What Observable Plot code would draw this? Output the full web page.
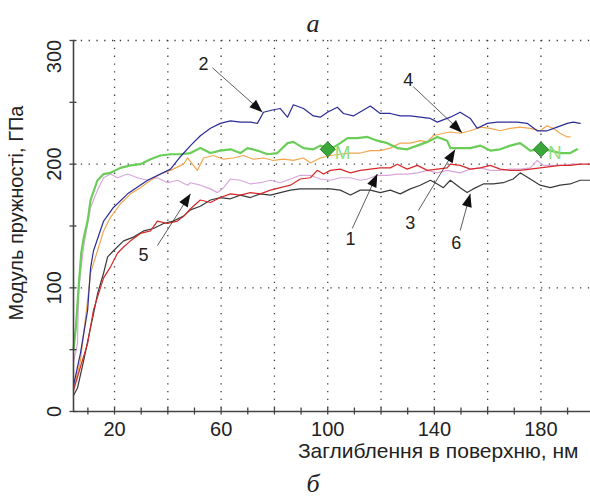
<!DOCTYPE html>
<html><head><meta charset="utf-8">
<script src="https://cdn.jsdelivr.net/npm/d3@7"></script>
<script src="https://cdn.jsdelivr.net/npm/@observablehq/plot@0.6"></script>
<style>html,body{margin:0;padding:0;background:#fff}</style>
</head><body><div id="chart"></div>
<script>
// ---- data ----
const depth1 = [4.6,7.2,9.9,12.1,14.7,15.9,18.5,21.1,23.4,26,29.7,33.5,36.1,39.9,43.6,46,48.5,52.2,56,59.7,63.5,67.2,71,74.7,78.5,82.2,86,89.7,93.5,96.1,98.4,101,104.7,108.5,112.2,116,119.7,123.5,126.1,129.8,133.6,137.4,141.1,144.8,146,149.7,153.5,157.3,161,164.7,168.5,172.2,176,179.7,183.5,187.2,191,194.7,198.5];
const modulus1 = [17,36,55,82,100,108,117,128,133,138,144,146,154,152,154,158,164,171,169,173,176,175,177,176,179,181,183,188,189,195,192,195,196,193,195,196,197,197,200,196,199,195,196,197,200,199,196,197,199,196,195,195,196,197,198,199,199,200,200];

const depth2 = [4.6,7.2,9.9,11,12.1,15.9,19.6,24.9,32.4,41,44.7,48.5,52.2,56,59.7,63.5,67.2,71,73.6,75.9,79.6,82.2,84.9,87.1,90.9,94.6,97.2,99.9,103.6,105.9,109.6,116,119.7,123.5,127.2,131,134.7,138.5,141.1,144.8,146,149.7,153.5,156.1,159.9,163.6,167.4,171.1,174.8,178.6,182.3,186.1,189.9,192.1,194.7];
const modulus2 = [21,47,82,116,130,154,165,176,187,196,206,215,223,229,233,235,234,234,233,242,244,245,238,248,245,239,238,242,246,241,239,247,241,241,239,239,238,237,234,237,238,242,237,229,233,234,234,234,233,227,227,230,233,234,233];

const depth3 = [4.6,5.5,6.5,7.5,8.4,9.9,11,13.6,15.9,18.5,22.2,26,29.7,33.5,37.2,41,44.7,48.5,52.2,56,59.7,63.5,67.2,69.9,73.6,77.4,81.1,84.9,87.1,90.9,94.6,97.2,101,104.7,107.4,111.1,114.9,118.6,122.4,126.1,129.8,133.6,137.4,141.1,144.8,146,149.7,153.5,157.3,161,164.7,168.5,172.2,176,179.7,183.5,187.2,191,193.6];
const modulus3 = [50,68,100,128,140,154,171,187,192,193,197,199,200,204,207,208,208,209,213,209,211,212,209,213,211,208,209,217,218,213,212,215,212,217,221,221,222,219,217,213,212,215,218,222,219,213,213,213,215,211,212,215,217,211,212,211,209,209,212];

const depth4 = [4.6,7.2,8.4,9.9,11,13.6,15.9,18.5,22.2,26,29.7,33.5,37.2,41,45.9,47.4,49.6,51.1,53.4,57.1,60.9,64.6,68.4,72.1,75.9,79.6,83.4,87.1,90.9,93.5,97.2,101,104.7,108.5,112.2,116,119.7,123.5,127.2,131,134.7,137.4,139.6,143.4,146,149.7,153.5,157.3,161,164.7,168.5,172.2,176,179.7,182.3,184.6,187.2,189.9,191];
const modulus4 = [18,41,63,90,112,130,146,157,168,176,181,187,192,195,200,205,199,195,205,207,204,205,207,204,205,203,204,203,205,201,205,207,208,209,209,211,211,213,217,217,219,218,223,225,226,225,227,230,229,227,229,230,229,227,231,229,225,222,222];

const depth5 = [4.6,6.1,6.5,7.2,8.4,9.9,11,13.6,15.9,18.5,21.1,24.9,28.6,32.4,36.1,39.9,43.6,47.4,48.5,52.2,56,58.6,60.9,63.5,67.2,71,74.7,78.5,82.2,86,89.7,93.5,97.2,101,104.7,108.5,112.2,114.9,118.6,122.4,126.1,129.8,133.6,137.4,141.1,144.8,149.7,153.5,157.3,161,164.7,168.5,172.2,176,178.6,180.8,184.6,188.4,192.1,194.7];
const modulus5 = [40,55,95,112,133,152,165,179,189,192,189,192,189,187,189,185,187,183,185,183,180,177,181,188,187,184,185,187,185,188,191,191,188,187,189,189,187,188,191,191,192,192,193,195,193,195,193,196,197,195,195,196,196,197,203,199,199,199,200,200];

const depth6 = [4.6,6.1,8.4,11,12.1,13.6,15.9,17.4,19.6,23.4,27.1,30.9,34.6,38.4,42.1,45.9,48.5,52.2,56,59.7,63.5,67.2,71,74.7,78.5,82.2,86,89.7,93.5,97.2,101,104.7,108.5,112.2,116,119.7,123.5,127.2,131,134.7,138.5,141.1,143.4,146,149.7,152.3,154.6,158.4,162.1,165.9,169.6,172.2,176,179.7,183.5,187.2,191,194.7,198.5];
const modulus6 = [13,19,41,68,79,95,112,125,130,138,141,146,148,152,154,158,163,166,171,173,172,175,173,176,175,177,179,180,180,180,180,179,175,179,179,177,179,176,180,183,187,184,181,187,181,177,180,184,184,185,188,193,188,183,181,183,184,187,187];

const curveIds = ["1","2","3","4","5","6"];
const curveColors = ["#d42a2a","#2c2c98","#6acd58","#f2a650","#d9a6dc","#3a3a3a"];
const curveWidths = [1.2,1.2,2.2,1.2,1.2,1.2];

// markers M, N on curve 3
const markerDepth = [100, 180];
const markerModulus = [212, 212];
const markerLabels = ["M", "N"];

// curve number annotations
const annotLabel = ["1","2","3","4","5","6"];
const annotTextX = [108.5, 53.4, 131, 130.2, 30.9, 148.2];
const annotTextY = [139, 281, 152, 267.6, 126, 136];
const annotFromX = [109.2, 56.7, 134, 132.1, 36.1, 149.7];
const annotFromY = [148, 278, 162.5, 262.7, 134.2, 146.3];
const annotTipX = [118.6, 75.5, 147.8, 150.4, 48.5, 153.5];
const annotTipY = [192, 242, 211.8, 225.5, 176, 176];

// axes
const xGridTicks = [20,40,60,80,100,120,140,160,180];
const xMinorTicks = [10,20,30,40,50,60,70,80,90,100,110,120,130,140,150,160,170,180,190];
const xTickLabels = [20,60,100,140,180];
const yGridTicks = [100,200,300];
const yMinorTicks = [0,50,100,150,200,250,300];
const yTickLabels = [0,100,200];
const yTopLabel = [300];
const xTitle = "Заглиблення в поверхню, нм";
const yTitle = "Модуль пружності, ГПа";
const topTitle = "а";
const bottomTitle = "б";

// ---- chart ----
const W = 590, H = 498, mL = 73, mR = 0, mT = 40, mB = 87;
const xDomain = [4.6, 198.6], yDomain = [0, 300];
const sx = Plot.scale({x: {domain: xDomain, range: [mL, W - mR]}});
const sy = Plot.scale({y: {domain: yDomain, range: [H - mB, mT]}});
const idx = d3.range(annotLabel.length);
const angles = idx.map(i => {
  const dx = sx.apply(annotTipX[i]) - sx.apply(annotFromX[i]);
  const dy = sy.apply(annotTipY[i]) - sy.apply(annotFromY[i]);
  return Math.atan2(dx, -dy) * 180 / Math.PI;
});
const headShape = {draw(ctx, l) { ctx.moveTo(0, -l); ctx.lineTo(-5, 0); ctx.lineTo(5, 0); ctx.closePath(); }};

const allDepth = [depth1, depth2, depth3, depth4, depth5, depth6];
const allMod = [modulus1, modulus2, modulus3, modulus4, modulus5, modulus6];
const drawOrder = [4, 3, 2, 1, 5, 0];
const lineMarks = drawOrder.map(k => Plot.line(d3.range(allDepth[k].length), {
  x: i => allDepth[k][i], y: i => allMod[k][i],
  stroke: curveColors[k], strokeWidth: curveWidths[k], strokeLinejoin: "round"
}));

const grid = {stroke: "#333", strokeOpacity: 0.95, strokeWidth: 1.3, strokeDasharray: "1.3,6.5"};
const axisCol = "#444";
const serif = "'Liberation Serif','Times New Roman',serif";

const chart = Plot.plot({
  width: W, height: H,
  marginLeft: mL, marginRight: mR, marginTop: mT, marginBottom: mB,
  x: {domain: xDomain, axis: null},
  y: {domain: yDomain, axis: null},
  style: {fontFamily: "Arial, 'Liberation Sans', sans-serif", fontSize: "20px", color: "#222", background: "#fff", overflow: "visible"},
  marks: [
    Plot.gridX(xGridTicks, grid),
    Plot.gridY(yGridTicks, grid),
    ...lineMarks,
    Plot.ruleY([0], {stroke: axisCol, strokeWidth: 1.6}),
    Plot.ruleX([xDomain[0]], {y1: 0, y2: 300, stroke: axisCol, strokeWidth: 1.6}),
    Plot.axisX(xMinorTicks, {tickSize: 7, dy: -3.5, fill: "none", stroke: axisCol, strokeWidth: 1.3}),
    Plot.axisY(yMinorTicks, {tickSize: 7, dx: 3.5, fill: "none", stroke: axisCol, strokeWidth: 1.3}),
    Plot.text(xTickLabels, {x: d => d, y: yDomain[0], dy: 18, text: d => String(d), fill: "#222"}),
    Plot.text(yTickLabels, {x: xDomain[0], y: d => d, dx: -19, rotate: -90, text: d => String(d), fill: "#222"}),
    Plot.text(yTopLabel, {x: xDomain[0], y: d => d, dx: -19, dy: 16, rotate: -90, text: d => String(d), fill: "#222"}),
    Plot.text([xTitle], {frameAnchor: "bottom-right", textAnchor: "end", dx: -12, dy: 46, fontSize: 21, fill: "#222"}),
    Plot.text([yTitle], {frameAnchor: "left", textAnchor: "middle", rotate: -90, dx: -57, dy: -13, fill: "#222"}),
    Plot.text([topTitle], {frameAnchor: "top", textAnchor: "middle", dx: -19, dy: -27, fontStyle: "italic", fontFamily: serif, fontSize: 26, fill: "#222"}),
    Plot.text([bottomTitle], {frameAnchor: "bottom", textAnchor: "middle", dx: -19, dy: 80, fontStyle: "italic", fontFamily: serif, fontSize: 26, fill: "#222"}),
    Plot.dot(d3.range(markerDepth.length), {x: i => markerDepth[i], y: i => markerModulus[i], symbol: "diamond2", r: 6.8, fill: "#3aa838", stroke: "#2a7a2a", strokeWidth: 1}),
    Plot.text(d3.range(markerDepth.length), {x: i => markerDepth[i], y: i => markerModulus[i], text: i => markerLabels[i], dx: 7, dy: 4, textAnchor: "start", fontSize: 19, fill: "#8fdc80"}),
    Plot.link(idx, {x1: i => annotFromX[i], y1: i => annotFromY[i], x2: i => annotTipX[i], y2: i => annotTipY[i], stroke: "#333", strokeWidth: 0.8}),
    Plot.vector(idx, {x: i => annotTipX[i], y: i => annotTipY[i], rotate: i => angles[i], length: 13, anchor: "end", shape: headShape, fill: "#111", stroke: "none"}),
    Plot.text(idx, {x: i => annotTextX[i], y: i => annotTextY[i], text: i => annotLabel[i], fontSize: 18, fill: "#222"})
  ]
});
document.getElementById("chart").appendChild(chart);
</script>
</body></html>
